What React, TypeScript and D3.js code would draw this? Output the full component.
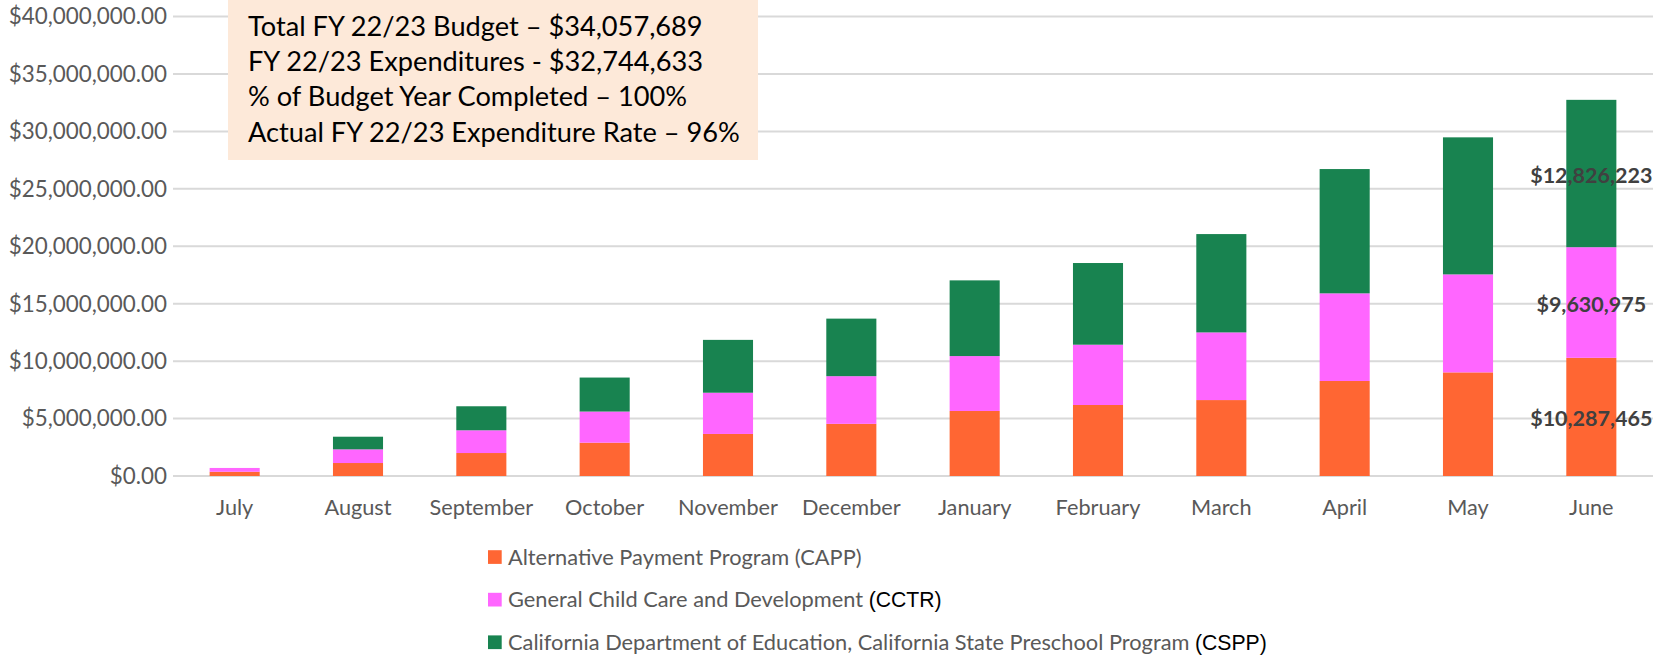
import React from "react";
import * as d3 from "d3";

const months = ["July","August","September","October","November","December","January","February","March","April","May","June"];
const capp = [370000, 1130000, 2000000, 2900000, 3660000, 4540000, 5660000, 6180000, 6610000, 8270000, 9020000, 10287465];
const cctr = [330000, 1190000, 1980000, 2710000, 3590000, 4150000, 4780000, 5250000, 5890000, 7630000, 8530000, 9630975];
const cspp = [0, 1100000, 2090000, 2960000, 4600000, 5010000, 6590000, 7110000, 8560000, 10820000, 11930000, 12826223];
const yTicks = [0, 5000000, 10000000, 15000000, 20000000, 25000000, 30000000, 35000000, 40000000];
const seriesKeys = ["capp", "cctr", "cspp"];
const seriesColors = ["#FF6633", "#FF66FF", "#188350"];
const legendMain = ["Alternative Payment Program (CAPP)", "General Child Care and Development ", "California Department of Education, California State Preschool Program "];
const legendTail = ["", "(CCTR)", "(CSPP)"];
const boxLines = [
  "Total FY 22/23 Budget \u2013 $34,057,689",
  "FY 22/23 Expenditures - $32,744,633",
  "% of Budget Year Completed \u2013 100%",
  "Actual FY 22/23 Expenditure Rate \u2013 96%",
];

const W = 1655, H = 656;
const FONT = "Lato, 'Open Sans', sans-serif";

export default function App() {
  const table = months.map((m, i) => ({ month: m, capp: capp[i], cctr: cctr[i], cspp: cspp[i] }));
  const stacked = d3.stack<any>().keys(seriesKeys)(table);
  const x = d3.scaleBand<string>().domain(months).range([173, 1653]).paddingInner(0.594).paddingOuter(0.297);
  const y = d3.scaleLinear().domain([0, 40000000]).range([476, 16.5]);
  const fmtTick = d3.format("$,.2f");
  const fmtLabel = d3.format("$,.0f");
  const last = months.length - 1;

  return (
    <div style={{ position: "absolute", left: 0, top: 0 }}>
      <svg width={W} height={H} style={{ display: "block", background: "#fff" }}>
        {yTicks.map((t) => (
          <g key={t}>
            <line x1={173} x2={1653} y1={y(t)} y2={y(t)} stroke="#D9D9D9" strokeWidth={2} />
            <text x={167} y={y(t)} dy="0.35em" textAnchor="end" fontFamily={FONT} fontSize={22.4} fill="#595959">
              {fmtTick(t)}
            </text>
          </g>
        ))}
        {stacked.map((s, si) => (
          <g key={s.key} fill={seriesColors[si]}>
            {s.map((d, i) => (
              <rect key={i} x={x(months[i])} width={x.bandwidth()} y={y(d[1])} height={Math.max(0, y(d[0]) - y(d[1]))} />
            ))}
          </g>
        ))}
        {stacked.map((s, si) => {
          const d = s[last];
          return (
            <text key={"lbl" + si} x={(x(months[last]) as number) + x.bandwidth() / 2} y={(y(d[0]) + y(d[1])) / 2 + 2} dy="0.35em"
              textAnchor="middle" fontFamily={FONT} fontWeight="bold" fontSize={21.5} fill="#404040">
              {fmtLabel(d[1] - d[0])}
            </text>
          );
        })}
        {months.map((m) => (
          <text key={m} x={(x(m) as number) + x.bandwidth() / 2} y={515} textAnchor="middle" fontFamily={FONT} fontSize={21.7} fill="#595959">
            {m}
          </text>
        ))}
        <rect x={228} y={0} width={530} height={160} fill="#FDE9D9" />
        {boxLines.map((l, i) => (
          <text key={i} x={248} y={36} dy={i * 35.2} fontFamily={FONT} fontSize={27.2} fill="#000">
            {l}
          </text>
        ))}
        {legendMain.map((l, i) => {
          const cy = 557 + i * 42.6;
          return (
            <g key={i}>
              <rect x={488} y={cy - 6.8} width={13.7} height={13.7} fill={seriesColors[i]} />
              <text x={508} y={cy + 7.5} fontFamily={FONT} fontSize={21.8} fill="#595959">
                {l}
                {legendTail[i] && (
                  <tspan fontFamily="'Liberation Sans', Arial, sans-serif" fontSize={21.2} fill="#000">{legendTail[i]}</tspan>
                )}
              </text>
            </g>
          );
        })}
      </svg>
    </div>
  );
}
